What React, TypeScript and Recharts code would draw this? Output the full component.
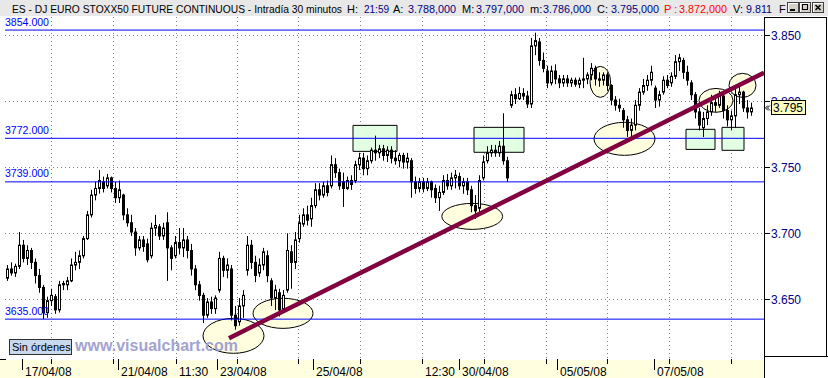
import React from 'react';
import { ComposedChart, Bar, XAxis, YAxis, CartesianGrid, ReferenceLine, ReferenceArea } from 'recharts';

// ---- data (30-minute bars, prices) ----
const opens = [
  3666, 3673, 3670, 3675, 3691, 3681, 3687, 3678, 3668, 3659,
  3640, 3649, 3652, 3642, 3661, 3661, 3664, 3676, 3678, 3683,
  3696, 3714, 3729, 3734, 3739, 3736, 3742, 3734, 3727, 3729,
  3714, 3708, 3701, 3689, 3695, 3692, 3683, 3704, 3705, 3698,
  3708, 3689, 3683, 3693, 3689, 3695, 3687, 3673, 3661, 3653,
  3638, 3648, 3643, 3657, 3681, 3672, 3673, 3638, 3633, 3645,
  3672, 3691, 3678, 3670, 3676, 3683, 3664, 3651, 3655, 3643,
  3657, 3686, 3678, 3696, 3707, 3714, 3711, 3721, 3733, 3729,
  3736, 3736, 3752, 3746, 3739, 3734, 3740, 3740, 3752, 3757,
  3749, 3755, 3763, 3761, 3764, 3759, 3763, 3757, 3755, 3759,
  3754, 3755, 3739, 3734, 3739, 3734, 3739, 3734, 3727, 3731,
  3740, 3736, 3742, 3743, 3736, 3739, 3733, 3721, 3719, 3742,
  3755, 3761, 3763, 3761, 3766, 3755, 3797, 3805, 3802, 3806,
  3804, 3798, 3842, 3845, 3831, 3823, 3814, 3823, 3817, 3814,
  3817, 3814, 3816, 3813, 3816, 3817, 3820, 3825, 3817, 3816,
  3820, 3812, 3801, 3797, 3793, 3786, 3778, 3782, 3797, 3807,
  3812, 3816, 3810, 3801, 3807, 3816, 3814, 3819, 3830, 3831,
  3822, 3814, 3805, 3792, 3780, 3787, 3792, 3799, 3797, 3804,
  3793, 3786, 3789, 3805, 3807, 3795, 3792,
];
const highs = [
  3676, 3678, 3677, 3701, 3695, 3691, 3689, 3681, 3673, 3661,
  3652, 3658, 3654, 3664, 3664, 3667, 3681, 3686, 3687, 3698,
  3717, 3733, 3739, 3748, 3743, 3745, 3743, 3739, 3740, 3730,
  3719, 3714, 3704, 3698, 3698, 3696, 3708, 3714, 3707, 3708,
  3716, 3691, 3698, 3704, 3704, 3698, 3692, 3676, 3664, 3655,
  3651, 3652, 3653, 3686, 3683, 3681, 3676, 3645, 3651, 3657,
  3698, 3695, 3683, 3681, 3689, 3687, 3666, 3661, 3658, 3657,
  3700, 3691, 3701, 3714, 3719, 3721, 3727, 3738, 3738, 3739,
  3740, 3759, 3757, 3749, 3746, 3743, 3744, 3755, 3761, 3761,
  3759, 3765, 3774, 3767, 3767, 3766, 3766, 3763, 3761, 3761,
  3761, 3757, 3743, 3742, 3742, 3742, 3740, 3737, 3736, 3744,
  3745, 3746, 3748, 3746, 3742, 3742, 3736, 3729, 3744, 3759,
  3766, 3767, 3767, 3770, 3791, 3758, 3808, 3810, 3811, 3810,
  3808, 3848, 3852, 3848, 3837, 3827, 3827, 3828, 3820, 3820,
  3820, 3818, 3818, 3818, 3833, 3822, 3829, 3827, 3822, 3822,
  3822, 3813, 3804, 3802, 3795, 3789, 3787, 3801, 3810, 3817,
  3820, 3827, 3812, 3808, 3819, 3820, 3822, 3835, 3836, 3833,
  3827, 3816, 3807, 3795, 3792, 3797, 3805, 3805, 3808, 3807,
  3797, 3793, 3810, 3811, 3808, 3801, 3799,
];
const lows = [
  3664, 3668, 3667, 3673, 3678, 3676, 3673, 3662, 3655, 3635,
  3636, 3645, 3639, 3640, 3657, 3657, 3663, 3672, 3673, 3681,
  3695, 3712, 3725, 3730, 3731, 3734, 3731, 3723, 3723, 3710,
  3705, 3698, 3683, 3687, 3686, 3678, 3681, 3698, 3695, 3695,
  3664, 3672, 3681, 3684, 3682, 3681, 3668, 3657, 3649, 3632,
  3636, 3639, 3639, 3655, 3667, 3666, 3634, 3627, 3630, 3636,
  3668, 3673, 3663, 3667, 3672, 3663, 3645, 3642, 3637, 3640,
  3655, 3658, 3673, 3693, 3705, 3706, 3705, 3719, 3725, 3727,
  3728, 3734, 3742, 3733, 3720, 3733, 3733, 3738, 3748, 3744,
  3744, 3753, 3755, 3757, 3755, 3754, 3753, 3752, 3750, 3749,
  3749, 3727, 3730, 3731, 3731, 3732, 3727, 3723, 3717, 3729,
  3733, 3733, 3734, 3733, 3730, 3729, 3716, 3711, 3716, 3740,
  3753, 3758, 3758, 3758, 3752, 3739, 3795, 3798, 3801, 3801,
  3795, 3795, 3835, 3827, 3822, 3810, 3812, 3813, 3810, 3811,
  3811, 3811, 3811, 3810, 3810, 3813, 3816, 3812, 3811, 3812,
  3808, 3797, 3793, 3792, 3780, 3773, 3770, 3778, 3793, 3805,
  3808, 3812, 3795, 3796, 3805, 3810, 3811, 3817, 3823, 3817,
  3812, 3801, 3787, 3778, 3773, 3782, 3789, 3792, 3795, 3787,
  3781, 3778, 3780, 3798, 3792, 3787, 3789,
];
const closes = [
  3673, 3670, 3675, 3691, 3681, 3687, 3678, 3668, 3659, 3640,
  3649, 3653, 3642, 3661, 3662, 3664, 3676, 3678, 3683, 3696,
  3714, 3729, 3734, 3740, 3734, 3742, 3734, 3727, 3733, 3714,
  3708, 3701, 3689, 3695, 3690, 3680, 3704, 3706, 3698, 3704,
  3689, 3681, 3693, 3689, 3695, 3687, 3673, 3661, 3653, 3638,
  3648, 3643, 3651, 3681, 3672, 3676, 3638, 3630, 3645, 3653,
  3691, 3678, 3668, 3676, 3686, 3668, 3651, 3657, 3642, 3653,
  3687, 3678, 3695, 3708, 3714, 3710, 3721, 3733, 3729, 3736,
  3731, 3752, 3746, 3736, 3734, 3740, 3737, 3752, 3757, 3749,
  3755, 3763, 3761, 3764, 3759, 3763, 3757, 3755, 3759, 3754,
  3757, 3739, 3734, 3739, 3734, 3739, 3733, 3727, 3731, 3740,
  3736, 3742, 3744, 3736, 3739, 3733, 3721, 3717, 3740, 3754,
  3761, 3763, 3761, 3766, 3755, 3742, 3805, 3802, 3806, 3804,
  3798, 3842, 3846, 3831, 3825, 3814, 3823, 3817, 3814, 3817,
  3814, 3816, 3813, 3816, 3817, 3820, 3825, 3817, 3816, 3820,
  3812, 3801, 3797, 3795, 3786, 3778, 3782, 3797, 3807, 3812,
  3816, 3822, 3801, 3805, 3816, 3812, 3819, 3830, 3833, 3822,
  3816, 3805, 3792, 3782, 3787, 3792, 3799, 3797, 3804, 3793,
  3786, 3789, 3805, 3807, 3795, 3792, 3795,
];
const SLOTS = 190; // bar slots on the time axis (last ones empty)

const yTicks = [3650, 3700, 3750, 3800, 3850];
const levels = [3854, 3772, 3739, 3635];
const dateTickPos = [3.68, 27.75, 52.43, 76.5, 113, 137.5, 161.75];
const dateTickLabels = ['17/04/08', '21/04/08', '23/04/08', '25/04/08', '30/04/08', '05/05/08', '07/05/08'];
const gridTickPos = [11, 26.5, 42.18, 57.43, 72.75, 88.25, 103.75, 119.25, 134.68, 150, 165.5, 180.93];
const gridTickLabels = ['', '', '11:30', '', '', '', '12:30', '', '', '', '', ''];
const trendStart = { x: 55.5, y: 3620.6 };
const trendEnd = { x: 189.25, y: 3821.7 };
const ellipseX1 = [49, 61.5, 108.7, 146.75, 145.75, 173, 180.5];
const ellipseX2 = [64.25, 76.5, 123.9, 162, 150.9, 181.5, 187.25];
const ellipseLo = [3609.1, 3628.0, 3703.0, 3759.1, 3803.0, 3791.7, 3803.0];
const ellipseHi = [3635.6, 3650.8, 3722.7, 3784.1, 3826.5, 3809.8, 3821.2];
const boxX1 = [86.5, 116.75, 169.75, 178.75];
const boxX2 = [97.5, 129.25, 177, 184.25];
const boxLo = [3762.1, 3761.4, 3763.6, 3762.9];
const boxHi = [3781.8, 3780.3, 3778.8, 3780.3];
const lastPrice = 3795;
const headerTitle = 'ES - DJ EURO STOXX50 FUTURE CONTINUOUS - Intradía 30 minutos';
const headerLabels = ['H:', 'A:', 'M:', 'm:', 'C:', 'P :', 'V:'];
const headerValues = ['21:59', '3.788,000', '3.797,000', '3.786,000', '3.795,000', '3.872,000', '9.811'];

// ---- layout ----
const FONT = '"Liberation Sans", Arial, sans-serif';
const W = 828;
const H = 378;
const NAVY = '#000080';
const headerLabelX = [347, 393, 462, 530, 597, 664, 733];
const headerValueX = [364, 408, 476, 543, 611, 679, 746];
const headerValueW = [25, 48, 48, 48, 48, 48, 26];

const data = Array.from({ length: SLOTS }, (_, i) =>
  i < opens.length
    ? { i, o: opens[i], h: highs[i], l: lows[i], c: closes[i], range: [lows[i], highs[i]] }
    : { i }
);

const scaleOf = (axis: any, v: number) => {
  const s = axis?.scale;
  if (typeof s === 'function') return s(v);
  if (s && typeof s.map === 'function') return s.map(v);
  return NaN;
};

const Candle = (props: any) => {
  const { x, y, width, height, payload } = props;
  if (!payload || payload.h == null || x == null) return null;
  const top = Math.min(y, y + height);
  const hgt = Math.abs(height);
  const { o, c, h: hi, l: lo } = payload;
  const span = hi - lo || 1;
  const py = (v: number) => top + ((hi - v) / span) * hgt;
  const cx = Math.floor(x + width / 2) + 0.5;
  const yo = py(o);
  const yc = py(c);
  const bt = Math.min(yo, yc);
  const bb = Math.max(yo, yc);
  const up = c > o;
  return (
    <g>
      <line x1={cx} x2={cx} y1={top} y2={top + hgt} stroke="#000" strokeWidth={1} />
      <rect x={cx - 1} y={bt} width={2} height={Math.max(bb - bt, 1)} fill={up ? '#fff' : '#000'} stroke="#000" strokeWidth={1} />
    </g>
  );
};

const YTick = (props: any) => {
  const { x, y, payload } = props;
  const v = payload.value as number;
  if (v === lastPrice) {
    return (
      <g>
        <path d={`M ${x + 5} ${y - 2.5} L ${x + 2.5} ${y} L ${x + 5} ${y + 2.5} M ${x + 3} ${y - 2.5} L ${x + 0.5} ${y} L ${x + 3} ${y + 2.5}`} stroke="#000" fill="none" strokeWidth={1} />
        <rect x={x + 6.5} y={Math.round(y) - 7.5} width={34} height={14} fill="#FFFFC0" stroke="#000" strokeWidth={1} />
        <text x={x + 8} y={y + 4.5} fontSize={12} fill="#000" fontFamily={FONT}>{(v / 1000).toFixed(3)}</text>
      </g>
    );
  }
  const yy = Math.round(y) + 0.5;
  return (
    <g>
      <line x1={x} x2={x + 5} y1={yy} y2={yy} stroke="#000" />
      <text x={x + 6} y={y + 4.4} fontSize={12} fill={NAVY} fontFamily={FONT}>{(v / 1000).toFixed(3)}</text>
    </g>
  );
};

const xTickMark = (label: string, long: boolean) => (p: any) => {
  const vb = p.viewBox || {};
  const px = Math.round(vb.x) + 0.5;
  const yb = vb.y + vb.height;
  return (
    <g>
      <line x1={px} x2={px} y1={yb} y2={yb + (long ? 11 : 5)} stroke="#000" />
      {label ? (
        <text x={px + 2.5} y={yb + 17} fontSize={12} fill="#000" fontFamily={FONT}>{label}</text>
      ) : null}
    </g>
  );
};

const levelLabel = (lv: number) => (p: any) => {
  const vb = p.viewBox || {};
  return (
    <text x={vb.x} y={vb.y - 4.5} fontSize={11} fill="#0000FF" fontFamily={FONT} textLength={44} lengthAdjust="spacingAndGlyphs">
      {lv.toFixed(3)}
    </text>
  );
};

const EllipseShape = (p: any) => {
  if (p.x == null) return null;
  return (
    <ellipse cx={p.x + p.width / 2} cy={p.y + p.height / 2} rx={Math.abs(p.width) / 2} ry={Math.abs(p.height) / 2} fill="#FFFFE0" stroke="#000" strokeWidth={1} />
  );
};

const WinButton = ({ x, kind }: { x: number; kind: string }) => (
  <g>
    <rect x={x + 0.5} y={2.5} width={11} height={10} fill="#D4D0C8" stroke="#404040" />
    <line x1={x + 1} x2={x + 11} y1={3.5} y2={3.5} stroke="#fff" />
    <line x1={x + 1.5} x2={x + 1.5} y1={3} y2={12} stroke="#fff" />
    {kind === 'min' && <line x1={x + 3} x2={x + 8} y1={10} y2={10} stroke="#000" strokeWidth={2} />}
    {kind === 'max' && <rect x={x + 3.5} y={4.5} width={5} height={5} fill="none" stroke="#000" />}
    {kind === 'close' && <path d={`M ${x + 3.5} ${5} L ${x + 8.5} ${10} M ${x + 8.5} ${5} L ${x + 3.5} ${10}`} stroke="#000" strokeWidth={1.5} />}
  </g>
);

export default function App() {
  return (
    <div style={{ position: 'absolute', left: 0, top: 0, width: W, height: H, background: '#fff', overflow: 'hidden' }}>
      <svg width={W} height={H} style={{ position: 'absolute', left: 0, top: 0 }}>
        <rect x={0} y={0} width={W} height={H} fill="#fff" />
        <rect x={0} y={360} width={765} height={18} fill="#FFFFE0" />
      </svg>
      <div style={{ position: 'absolute', left: 0, top: 0 }}>
        <ComposedChart width={W} height={H} data={data} margin={{ top: 17, right: 0, bottom: 0, left: 5 }} barCategoryGap={0} barGap={0}>
          <CartesianGrid
            xAxisId="n"
            stroke="#808080"
            strokeDasharray="1 3"
            horizontalCoordinatesGenerator={({ yAxis, offset }: any) =>
              yTicks.map((v) => {
                let p = scaleOf(yAxis, v);
                if (!isFinite(p)) p = offset.top + ((3863.9 - v) / (3863.9 - 3604.8)) * offset.height;
                return Math.round(p) + 0.5;
              })
            }
            verticalCoordinatesGenerator={({ xAxis, offset }: any) =>
              gridTickPos.map((v) => {
                let p = scaleOf(xAxis, v);
                if (!isFinite(p)) p = offset.left + ((v + 0.5) / SLOTS) * offset.width;
                return Math.round(p) + 0.5;
              })
            }
          />
          <XAxis xAxisId="c" dataKey="i" type="category" hide />
          <XAxis
            xAxisId="n"
            dataKey="i"
            type="number"
            domain={[-0.5, SLOTS - 0.5]}
            allowDataOverflow
            ticks={[]}
            tick={false}
            tickLine={false}
            axisLine={{ stroke: '#000' }}
            height={19}
          />
          <YAxis
            orientation="right"
            width={63}
            domain={[3604.8, 3863.9]}
            allowDataOverflow
            ticks={[...yTicks, lastPrice]}
            interval={0}
            tick={<YTick />}
            tickLine={false}
            tickSize={0}
            tickMargin={0}
            axisLine={false}
          />
          {ellipseX1.map((x1, k) => (
            <ReferenceArea key={'e' + k} xAxisId="n" x1={x1} x2={ellipseX2[k]} y1={ellipseLo[k]} y2={ellipseHi[k]} shape={EllipseShape} ifOverflow="visible" />
          ))}
          {boxX1.map((x1, k) => (
            <ReferenceArea key={'b' + k} xAxisId="n" x1={x1} x2={boxX2[k]} y1={boxLo[k]} y2={boxHi[k]} fill="#E3FFE3" fillOpacity={1} stroke="#000" strokeWidth={1} ifOverflow="visible" />
          ))}
          <Bar xAxisId="c" dataKey="range" shape={<Candle />} isAnimationActive={false} />
          {levels.map((lv) => (
            <ReferenceLine key={'l' + lv} xAxisId="n" y={lv} stroke="#0000FF" strokeWidth={1} label={levelLabel(lv)} />
          ))}
          <ReferenceLine xAxisId="n" segment={[trendStart, trendEnd]} stroke="#800040" strokeWidth={4.5} ifOverflow="visible" />
          {dateTickPos.map((v, k) => (
            <ReferenceLine key={'dt' + k} xAxisId="n" x={v} stroke="none" label={xTickMark(dateTickLabels[k], true)} />
          ))}
          {gridTickPos.map((v, k) => (
            <ReferenceLine key={'gt' + k} xAxisId="n" x={v} stroke="none" label={xTickMark(gridTickLabels[k], false)} />
          ))}
        </ComposedChart>
      </div>
      <svg width={W} height={H} style={{ position: 'absolute', left: 0, top: 0, pointerEvents: 'none' }}>
        <rect x={0} y={0} width={W} height={16} fill="#E8E8E8" />
        <text x={12} y={13} fontSize={11} fontFamily={FONT} fill="#000" textLength={330} lengthAdjust="spacingAndGlyphs">{headerTitle}</text>
        {headerLabels.map((t, k) => (
          <text key={'hl' + k} x={headerLabelX[k]} y={13} fontSize={11} fontFamily={FONT} fill={k === 5 ? '#FF0000' : '#000'}>{t}</text>
        ))}
        {headerValues.map((t, k) => (
          <text key={'hv' + k} x={headerValueX[k]} y={13} fontSize={11} fontFamily={FONT} fill={k === 5 ? '#FF0000' : NAVY} textLength={headerValueW[k]} lengthAdjust="spacingAndGlyphs">{t}</text>
        ))}
        <text x={779} y={13} fontSize={11} fontFamily={FONT} fill="#000">F</text>
        <WinButton x={787} kind="min" />
        <WinButton x={799} kind="max" />
        <WinButton x={812} kind="close" />
        <line x1={764.5} x2={764.5} y1={17} y2={378} stroke="#000" />
        <line x1={764} x2={827} y1={17.5} y2={17.5} stroke="#000" />
        <line x1={826.5} x2={826.5} y1={17} y2={357} stroke="#000" />
        <line x1={764} x2={828} y1={356.5} y2={356.5} stroke="#000" />
        <line x1={0} x2={6} y1={359.5} y2={359.5} stroke="#000" />
        <rect x={9.5} y={339.5} width={62} height={15} fill="#C8D8EE" stroke="#303030" />
        <text x={12} y={351} fontSize={11} fontFamily={FONT} fill="#000">Sin órdenes</text>
        <text x={75} y={350.5} fontSize={16} fontWeight="bold" fontFamily={FONT} fill="#A3A3D1">www.visualchart.com</text>
      </svg>
    </div>
  );
}
